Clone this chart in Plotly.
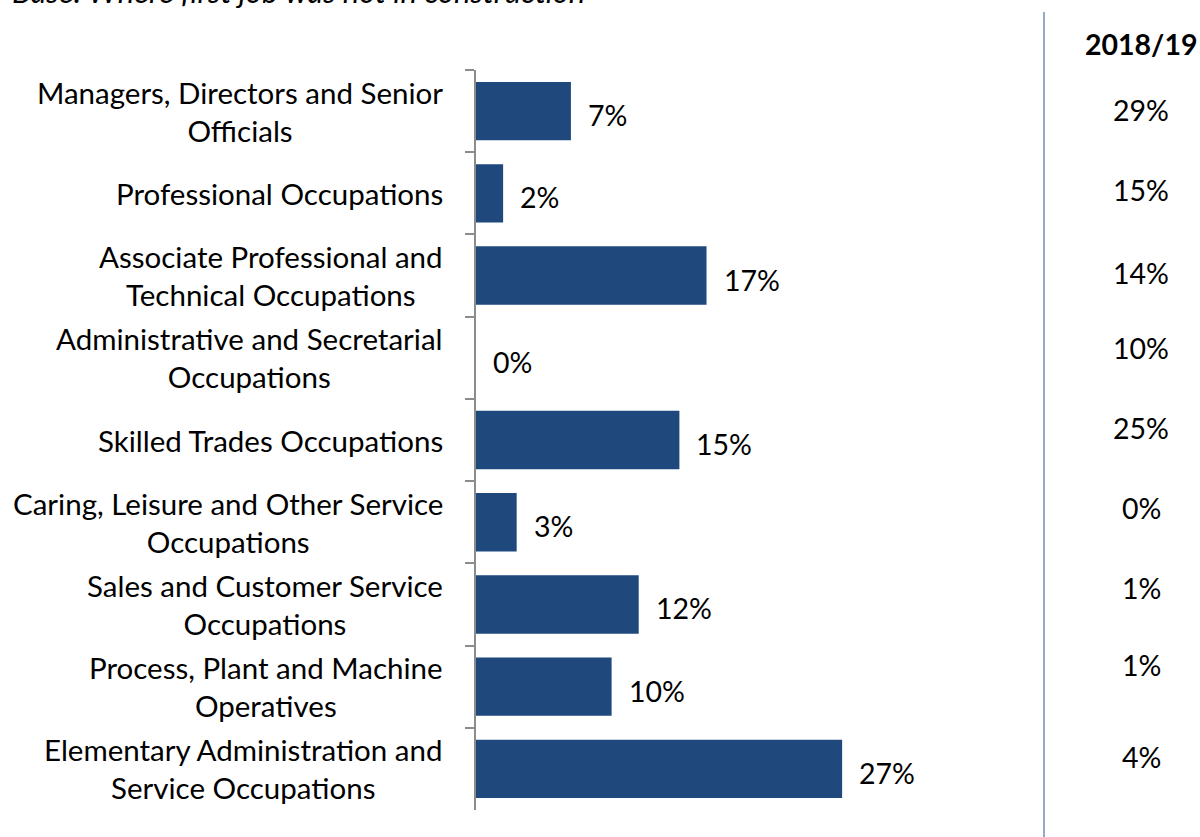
import plotly.graph_objects as go

categories = [
    "Managers, Directors and Senior<br>Officials",
    "Professional Occupations",
    "Associate Professional and<br>Technical Occupations",
    "Administrative and Secretarial<br>Occupations",
    "Skilled Trades Occupations",
    "Caring, Leisure and Other Service<br>Occupations",
    "Sales and Customer Service<br>Occupations",
    "Process, Plant and Machine<br>Operatives",
    "Elementary Administration and<br>Service Occupations",
]
values = [7, 2, 17, 0, 15, 3, 12, 10, 27]
values_2018 = [29, 15, 14, 10, 25, 0, 1, 1, 4]
col_header = "2018/19"
base_note = "Base: Where first job was not in construction"

# layout geometry (pixels)
W, H = 1200, 837
L, R, T, B = 476, 156, 70, 27
plot_h = H - T - B
right_col_y_px = [110, 190, 273, 348, 428, 508, 588, 665, 757]
font_family = "Lato, 'Liberation Sans', sans-serif"
FS = 28.5
FS_LABEL = 29.5
bar_color = "#1F497D"

fig = go.Figure()
fig.add_trace(go.Bar(
    x=values, y=categories, orientation="h",
    marker=dict(color=bar_color, line=dict(width=0)),
    width=0.71, hoverinfo="skip",
))

def py(px):
    return (H - B - px) / plot_h

def px_x(px):
    return (px - L) / (W - L - R)

annotations = []
for c, v in zip(categories, values):
    annotations.append(dict(x=v, y=c, xref="x", yref="y", text=f"{v}%",
                            xanchor="left", yanchor="middle", xshift=15, yshift=-4,
                            showarrow=False, font=dict(size=FS, color="black", family=font_family)))
    annotations.append(dict(x=0, y=c, xref="paper", yref="y", text=c,
                            xanchor="right", yanchor="middle", align="center", xshift=-31,
                            showarrow=False, font=dict(size=FS_LABEL, color="black", family=font_family)))
annotations.append(dict(x=px_x(1141), y=py(44), xref="paper", yref="paper",
                        text=f"<b>{col_header}</b>", xanchor="center", yanchor="middle",
                        showarrow=False, font=dict(size=FS, color="black", family=font_family)))
for v, ypx in zip(values_2018, right_col_y_px):
    annotations.append(dict(x=px_x(1141), y=py(ypx), xref="paper", yref="paper",
                            text=f"{v}%", xanchor="center", yanchor="middle",
                            showarrow=False, font=dict(size=FS, color="black", family=font_family)))
annotations.append(dict(x=px_x(10), y=py(-9), xref="paper", yref="paper",
                        text=f"<i>{base_note}</i>", xanchor="left", yanchor="middle",
                        showarrow=False, font=dict(size=31, color="black", family=font_family)))

fig.update_layout(
    width=W, height=H,
    margin=dict(l=L, r=R, t=T, b=B, pad=0),
    plot_bgcolor="white", paper_bgcolor="white",
    showlegend=False,
    xaxis=dict(range=[0, (W - L - R) / 13.56], visible=False, fixedrange=True),
    yaxis=dict(type="category", autorange="reversed", range=[8.5, -0.5],
               showticklabels=False, tickson="boundaries", ticks="outside", ticklen=9,
               tickcolor="#8c8c8c", tickwidth=1.5, showline=True, linecolor="#8c8c8c",
               linewidth=1.5, showgrid=False, zeroline=False, fixedrange=True),
    annotations=annotations,
    shapes=[dict(type="line", xref="paper", yref="paper", x0=1, x1=1,
                 y0=py(837), y1=py(12), line=dict(color="#2b5592", width=1))],
)

fig.write_html("out.html", config={"displayModeBar": False},
               post_script="document.body.style.margin='0';document.body.style.overflow='hidden';")
